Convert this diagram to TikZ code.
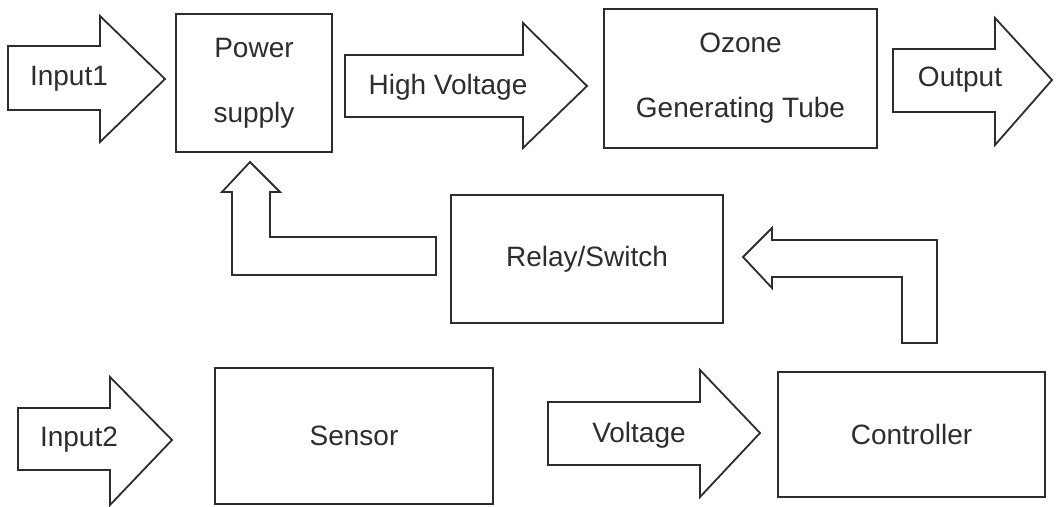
\documentclass[tikz,border=0pt]{standalone}
\usepackage{fontspec}
\setmainfont{Liberation Sans}
\usepackage{tikz}

\definecolor{inkgray}{RGB}{45,45,45}

\begin{document}
\begin{tikzpicture}[x=0.5pt,y=-0.5pt,
	box/.style={draw=inkgray,line width=0.9pt,align=center,inner sep=0pt,
		font=\fontsize{14}{32.5}\selectfont,text=inkgray},
	blockarrow/.style={draw=inkgray,line width=0.9pt,line join=miter},
	lbl/.style={inner sep=0pt,font=\fontsize{14}{16}\selectfont,text=inkgray}]
	\useasboundingbox [fill=white] (0,0) rectangle (1056,507);

	% blocks
	\node [box,minimum width=78pt,minimum height=69pt] (power) at (254,83)
	{Power\\supply};
	\node [box,minimum width=136.5pt,minimum height=69.5pt] (tube) at (740.5,78.5)
	{Ozone\\Generating Tube};
	\node [box,minimum width=136pt,minimum height=64pt] (relay) at (587,259)
	{Relay/Switch};
	\node [box,minimum width=139pt,minimum height=68pt] (sensor) at (354,436)
	{Sensor};
	\node [box,minimum width=133.5pt,minimum height=62.5pt] (ctrl) at (911.5,434.5)
	{Controller};

	% top row arrows
	\draw [blockarrow]
	(8,46) -- (100,46) -- (100,16) -- (165,79) -- (100,142) -- (100,110) -- (8,110) -- cycle;
	\node [lbl] (in1) at (69,79) {Input1};
	\draw [blockarrow]
	(345,55) -- (523,55) -- (523,23) -- (587,86) -- (523,148) -- (523,117) -- (345,117) -- cycle;
	\node [lbl] (hv) at (448,87) {High Voltage};
	\draw [blockarrow]
	(893,49) -- (995,49) -- (995,18) -- (1052,80) -- (995,145) -- (995,112) -- (893,112) -- cycle;
	\node [lbl] (out) at (960,80) {Output};

	% feedback arrows
	\draw [blockarrow]
	(232,275) -- (232,192) -- (222,192) -- (250,162) -- (280,192) -- (270,192)
	-- (270,237) -- (436,237) -- (436,275) -- cycle;
	\draw [blockarrow]
	(743,257) -- (772,228) -- (772,240) -- (937,240) -- (937,343) -- (902,343)
	-- (902,277) -- (772,277) -- (772,288) -- cycle;

	% bottom row arrows
	\draw [blockarrow]
	(18,408) -- (110,408) -- (110,377) -- (172,440) -- (110,505) -- (110,470) -- (18,470) -- cycle;
	\node [lbl] (in2) at (79,440) {Input2};
	\draw [blockarrow]
	(548,402) -- (700,402) -- (700,370) -- (760,433) -- (700,497) -- (700,465) -- (548,465) -- cycle;
	\node [lbl] (volt) at (639,435) {Voltage};
\end{tikzpicture}
\end{document}
